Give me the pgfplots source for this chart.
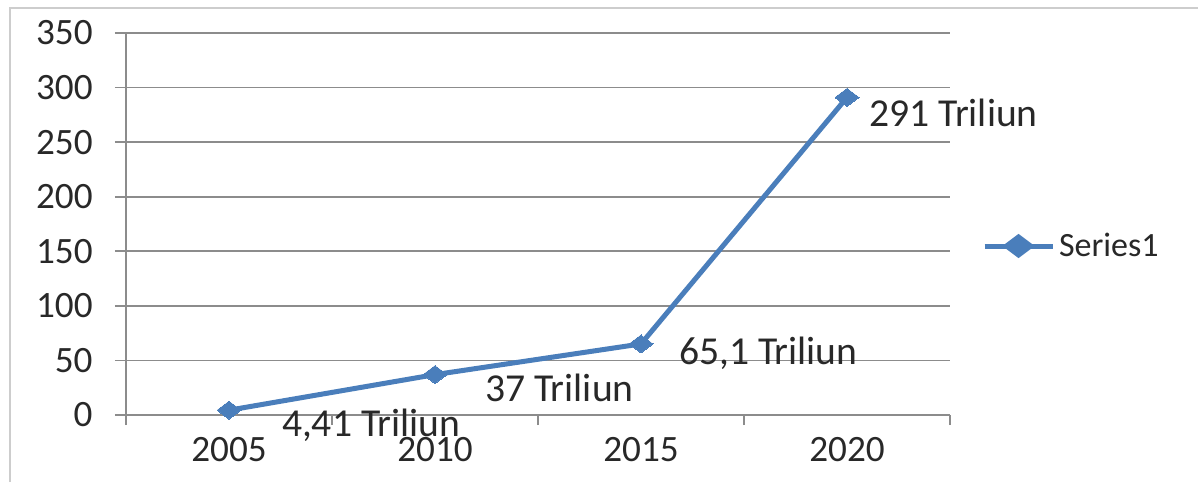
\documentclass[border=0pt]{standalone}
\usepackage{pgfplots}
\pgfplotsset{compat=1.18}
\usepackage{pgfplotstable}
\usepackage{fontspec}
\setmainfont{Carlito}
\definecolor{serblue}{RGB}{74,126,187}
\definecolor{gridgray}{RGB}{140,140,140}
\definecolor{framegray}{RGB}{205,205,205}
\definecolor{txt}{RGB}{40,40,40}
\pgfplotstableread[col sep=semicolon]{
x;y;label;dx;dy
0;4.41;4,41 Triliun;26.5;-7.5
1;37;37 Triliun;25;-6.5
2;65.1;65,1 Triliun;19;-4.5
3;291;291 Triliun;11;-7.5
}\datatable
\begin{document}
\begin{tikzpicture}
\path[use as bounding box] (-63pt,-33.5pt) rectangle (536pt,207.5pt);
\draw[framegray, line width=1pt] (-58pt,-33.5pt) -- (-58pt,203.5pt) -- (536pt,203.5pt);
\begin{axis}[
  at={(0,0)}, anchor=south west,
  scale only axis,
  width=412pt, height=191pt,
  xmin=-0.5, xmax=3.5,
  ymin=0, ymax=350,
  xtick={0,1,2,3},
  xticklabels={2005,2010,2015,2020},
  minor xtick={-0.5,0.5,1.5,2.5,3.5},
  ytick={0,50,...,350},
  axis lines=left,
  axis line style={-, gridgray, line width=0.8pt},
  tick align=outside,
  major x tick style={draw=none},
  minor x tick style={gridgray, line width=0.8pt},
  minor tick length=5pt,
  major tick length=5.5pt,
  y tick style={gridgray, line width=0.8pt},
  ymajorgrids,
  major grid style={gridgray, line width=0.8pt},
  tick label style={font=\fontsize{18.6}{22}\selectfont, text=txt},
  /pgf/number format/assume math mode=true,
  yticklabel style={anchor=east, inner sep=0pt, xshift=-11pt},
  xticklabel style={anchor=center, inner sep=0pt, yshift=-12pt},
  legend style={draw=none, at={(1,0.4424)}, anchor=west, xshift=16pt,
    font=\fontsize{17}{20}\selectfont, text=txt, fill=none,
    inner sep=0pt, outer sep=0pt},
  legend image code/.code={%
    \draw[line width=2.5pt, serblue] (0pt,0pt) -- (34pt,0pt);
    \fill[serblue] (17pt,0pt) +(-6pt,0pt) -- +(0pt,4.5pt) -- +(6pt,0pt) -- +(0pt,-4.5pt) -- cycle;},
  clip=false,
]
\addplot[serblue, line width=2.5pt,
  mark=diamond*, mark size=6pt, mark options={rotate=90, solid, fill=serblue, draw=serblue, line width=0pt},
  point meta=explicit symbolic,
  visualization depends on={\thisrow{dx}\as\dx},
  visualization depends on={\thisrow{dy}\as\dy},
  nodes near coords,
  nodes near coords style={anchor=west, inner sep=0pt, xshift=\dx pt, yshift=\dy pt,
    font=\fontsize{19.8}{23}\selectfont, text=txt},
] table[x=x, y=y, meta=label] {\datatable};
\addlegendentry{Series1}
\end{axis}
\end{tikzpicture}
\end{document}
